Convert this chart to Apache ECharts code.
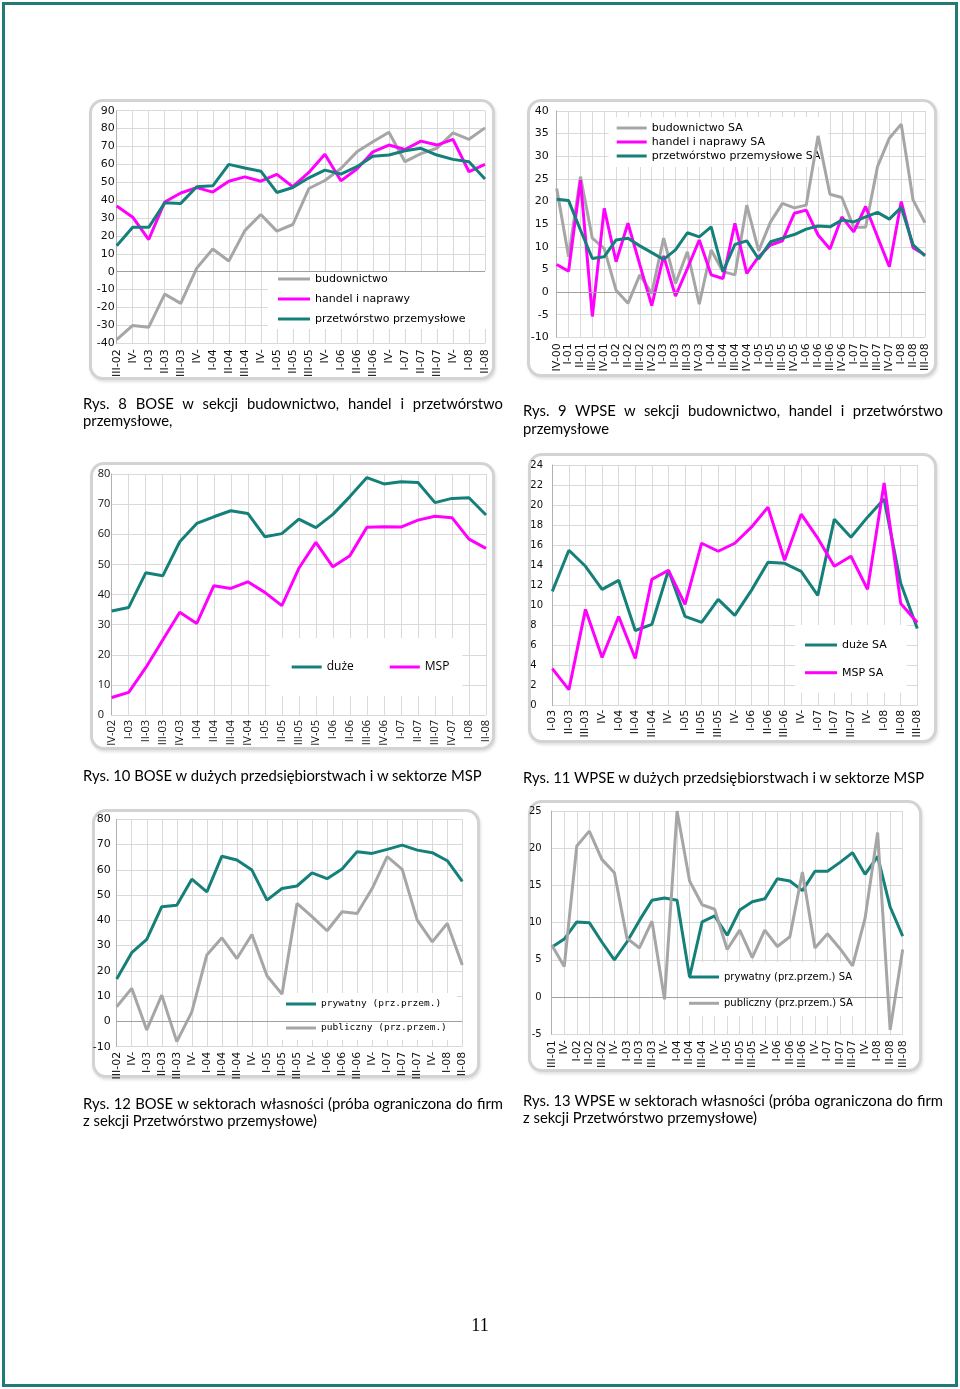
<!DOCTYPE html>
<html><head><meta charset="utf-8">
<script src="https://cdn.jsdelivr.net/npm/echarts@6/dist/echarts.min.js"></script>
<style>
body{margin:0;background:#fff}
#page{position:relative;width:960px;height:1389px;overflow:hidden;background:#fff}
.border{position:absolute;left:2px;top:2px;width:956px;height:1385px;box-sizing:border-box;border:3px solid #1f7b76}
.frame{position:absolute;box-sizing:border-box;border:3px solid #d3d3d3;border-radius:14px;background:#fff;box-shadow:1px 2px 3px rgba(0,0,0,0.12)}
.cap{position:absolute;font-family:Lato,sans-serif;font-size:14.8px;line-height:17px;color:#000;white-space:nowrap}
.j{text-align:justify;text-align-last:justify;white-space:normal}
#c{position:absolute;left:0;top:0;width:960px;height:1389px}
.pn{position:absolute;left:440px;width:80px;top:1315px;text-align:center;font-family:'Liberation Serif',serif;font-size:18px;color:#000}
</style></head><body>
<div id="page">
<div class="border"></div>
<div class="frame" style="left:89px;top:99px;width:406px;height:281px"></div>
<div class="frame" style="left:527px;top:99px;width:410px;height:278px"></div>
<div class="frame" style="left:90px;top:462px;width:405px;height:288px"></div>
<div class="frame" style="left:528px;top:453px;width:409px;height:290px"></div>
<div class="frame" style="left:92px;top:809px;width:388px;height:269px"></div>
<div class="frame" style="left:528px;top:800px;width:394px;height:272px"></div>
<div id="c"></div>
<div class="cap j" style="left:83px;top:395px;width:420px">Rys. 8 BOSE w sekcji budownictwo, handel i przetwórstwo</div>
<div class="cap" style="left:83px;top:412px">przemysłowe,</div>
<div class="cap j" style="left:523px;top:402px;width:420px">Rys. 9 WPSE w sekcji budownictwo, handel i przetwórstwo</div>
<div class="cap" style="left:523px;top:420px">przemysłowe</div>
<div class="cap" style="left:83px;top:767px">Rys. 10 BOSE w dużych przedsiębiorstwach i w sektorze MSP</div>
<div class="cap" style="left:523px;top:769px">Rys. 11 WPSE w dużych przedsiębiorstwach i w sektorze MSP</div>
<div class="cap j" style="left:83px;top:1095px;width:420px">Rys. 12 BOSE w sektorach własności (próba ograniczona do firm</div>
<div class="cap" style="left:83px;top:1112px">z sekcji Przetwórstwo przemysłowe)</div>
<div class="cap j" style="left:523px;top:1092px;width:420px">Rys. 13 WPSE w sektorach własności (próba ograniczona do firm</div>
<div class="cap" style="left:523px;top:1109px">z sekcji Przetwórstwo przemysłowe)</div>
<div class="pn">11</div>
</div>
<script>
// ---- Data ----
const cat1 = ["III-02","IV-","I-03","II-03","III-03","IV-","I-04","II-04","III-04","IV-","I-05","II-05","III-05","IV-","I-06","II-06","III-06","IV-","I-07","II-07","III-07","IV-","I-08","II-08"];
const bud1 = [-38,-30,-31,-12.5,-17.7,2,12.7,6,23,32,22.7,26.4,46.5,51,57.7,67,72.6,78,61.5,66,69,77.6,74,80.4];
const han1 = [36.7,30.5,18,39,44,47,44.5,50.6,53,50.6,54.4,47.5,55.5,65.7,50.8,57.4,67,70.8,68.3,73,70.8,74,55.9,60];
const prz1 = [14.5,24.8,24.8,38.5,38.2,47.5,48,60,58,56.2,44.3,47.1,52.5,56.8,54.6,58.7,64.6,65.2,67.6,69,65.2,62.8,61.5,51.8];

const cat2 = ["IV-00","I-01","II-01","III-01","IV-01","I-02","II-02","III-02","IV-02","I-03","II-03","III-03","IV-03","I-04","II-04","III-04","IV-04","I-05","II-05","III-05","IV-05","I-06","II-06","III-06","IV-06","I-07","II-07","III-07","IV-07","I-08","II-08","III-08"];
const bud2 = [22.9,7.8,25.5,11.9,9.6,0.4,-2.5,3.8,-0.3,11.9,1.9,8.9,-2.7,9.3,4.5,3.8,19.2,9.1,15.5,19.6,18.6,19.2,34.5,21.6,20.9,14.3,14.3,27.7,34,37.1,20.3,15.3];
const han2 = [6.1,4.6,24.7,-5.4,18.5,6.7,15.2,6,-3,8,-0.9,5.2,11.5,3.8,3,15.2,4.1,7.8,10.4,11.3,17.4,18.1,12.6,9.5,16.6,13.3,18.9,12.2,5.6,20,9.8,8.2];
const prz2 = [20.5,20.2,13.7,7.4,7.8,11.5,11.9,10.2,8.7,7.2,9.3,13.1,12.2,14.4,4.5,10.5,11.3,7.3,11.1,11.9,12.7,13.9,14.6,14.4,15.9,15.5,16.6,17.6,16.1,18.7,10.4,8];

const cat3 = ["IV-02","I-03","II-03","III-03","IV-03","I-04","II-04","III-04","IV-04","I-05","II-05","III-05","IV-05","I-06","II-06","III-06","IV-06","I-07","II-07","III-07","IV-07","I-08","II-08"];
const duze3 = [34.5,35.7,47.2,46.2,57.5,63.6,65.8,67.8,66.9,59.2,60.2,65,62.2,66.6,72.5,78.8,76.7,77.4,77.2,70.5,71.9,72.1,66.4];
const msp3 = [5.8,7.5,15.7,24.9,34.1,30.4,42.9,42,44.2,40.7,36.3,48.7,57.3,49.2,52.9,62.3,62.5,62.4,64.7,66,65.5,58.4,55.3];

const cat4 = ["I-03","II-03","III-03","IV-","I-04","II-04","III-04","IV-","I-05","II-05","III-05","IV-","I-06","II-06","III-06","IV-","I-07","II-07","III-07","IV-","I-08","II-08","III-08"];
const duze4 = [11.4,15.5,13.9,11.6,12.5,7.5,8.1,13.5,8.9,8.3,10.6,9,11.5,14.3,14.2,13.4,11,18.6,16.8,18.8,20.6,12.2,7.7];
const msp4 = [3.7,1.6,9.6,4.8,8.9,4.7,12.6,13.5,10.1,16.2,15.4,16.2,17.8,19.8,14.5,19.1,16.7,13.9,14.9,11.6,22.2,10.2,8.3];

const cat5 = ["III-02","IV-","I-03","II-03","III-03","IV-","I-04","II-04","III-04","IV-","I-05","II-05","III-05","IV-","I-06","II-06","III-06","IV-","I-07","II-07","III-07","IV-","I-08","II-08"];
const pryw5 = [16.8,27.2,32.5,45.4,46,56.3,51.3,65.4,63.9,59.9,48,52.6,53.6,58.8,56.5,60.3,67.2,66.5,68.1,69.8,67.8,66.8,63.6,55.4];
const publ5 = [5.8,13.1,-3.4,10.4,-8,3.8,26.3,33.1,24.9,34.4,18.1,10.8,46.7,41.5,35.9,43.4,42.7,52.6,65.2,60.2,40.1,31.5,38.8,22.3];

const cat6 = ["III-01","IV-","I-02","II-02","III-02","IV-","I-03","II-03","III-03","IV-","I-04","II-04","III-04","IV-","I-05","II-05","III-05","IV-","I-06","II-06","III-06","IV-","I-07","II-07","III-07","IV-","I-08","II-08","III-08"];
const pryw6 = [6.7,7.8,10.1,10,7.4,5,7.4,10.3,13,13.3,13,2.7,10.1,10.9,8.3,11.7,12.8,13.2,15.9,15.6,14.3,16.9,16.9,18.1,19.4,16.5,18.9,12.1,8.2];
const publ6 = [7,4.1,20.3,22.3,18.5,16.7,7.9,6.6,10.2,-0.3,25,15.6,12.4,11.8,6.4,9,5.3,9,6.8,8.1,16.8,6.6,8.5,6.5,4.2,10.6,22.1,-4.4,6.4];

// ---- Styling ----
const GRAY = '#a6a6a6', MAG = '#ff00ff', TEAL = '#15807a', GRID = '#d9d9d9';
const DV = 'DejaVu Sans';

const grids = [
  {left:116.7, top:110.7, width:368.3, height:232.6},
  {left:556.7, top:111, width:368.3, height:226.3},
  {left:111.7, top:474, width:374.3, height:241},
  {left:552.3, top:465, width:365, height:240.7},
  {left:116.7, top:819.3, width:345.6, height:227.4},
  {left:551.7, top:811, width:351, height:223.3}
];
const axCfg = [
  {cats:cat1, min:-40, max:90, interval:10, xf:DV, xs:11, xm:6, yf:DV, ys:11, ym:2, ya:'right'},
  {cats:cat2, min:-10, max:40, interval:5, xf:DV, xs:11, xm:6, yf:DV, ys:11, ym:8, ya:'right'},
  {cats:cat3, min:0, max:80, interval:10, xf:'Open Sans', xs:11, xm:5, yf:'Open Sans', ys:11, ym:14, ya:'left'},
  {cats:cat4, min:0, max:24, interval:2, xf:DV, xs:11, xm:4, yf:DV, ys:10, ym:22, ya:'left'},
  {cats:cat5, min:-10, max:80, interval:10, xf:DV, xs:11, xm:5, yf:DV, ys:11, ym:6, ya:'right'},
  {cats:cat6, min:-5, max:25, interval:5, xf:DV, xs:11, xm:6, yf:DV, ys:10, ym:10, ya:'right'}
];

const xAxis = axCfg.map((a,i)=>({
  type:'category', gridIndex:i, data:a.cats, boundaryGap:false,
  axisLine:{show:false}, axisTick:{show:false},
  splitLine:{show:true, lineStyle:{color:GRID, width:1}},
  axisLabel:{rotate:90, interval:0, margin:a.xm, fontFamily:a.xf, fontSize:a.xs, color:'#111'}
}));
const yAxis = axCfg.map((a,i)=>({
  type:'value', gridIndex:i, min:a.min, max:a.max, interval:a.interval,
  axisLine:{show:true, lineStyle:{color:'#b0b0b0', width:1}}, axisTick:{show:false},
  splitLine:{show:true, lineStyle:{color:GRID, width:1}},
  axisLabel:{margin:a.ym, align:a.ya, fontFamily:a.yf, fontSize:a.ys, color:'#111'}
}));

function ser(i, name, data, color, zero){
  const s = {type:'line', name, data, xAxisIndex:i, yAxisIndex:i, symbol:'none', smooth:false,
    lineStyle:{width:3, color}, itemStyle:{color}, animation:false, z:3};
  if(zero){
    s.markLine = {silent:true, symbol:'none', animation:false, label:{show:false},
      lineStyle:{color:'#a0a0a0', width:1, type:'solid'}, data:[{yAxis:0}]};
  }
  return s;
}
const series = [
  ser(0,'budownictwo',bud1,GRAY,true), ser(0,'handel i naprawy',han1,MAG), ser(0,'przetwórstwo przemysłowe',prz1,TEAL),
  ser(1,'budownictwo SA',bud2,GRAY,true), ser(1,'handel i naprawy SA',han2,MAG), ser(1,'przetwórstwo przemysłowe SA',prz2,TEAL),
  ser(2,'duże',duze3,TEAL), ser(2,'MSP',msp3,MAG),
  ser(3,'duże SA',duze4,TEAL), ser(3,'MSP SA',msp4,MAG),
  ser(4,'prywatny (prz.przem.)',pryw5,TEAL,true), ser(4,'publiczny (prz.przem.)',publ5,GRAY),
  ser(5,'prywatny (prz.przem.) SA',pryw6,TEAL,true), ser(5,'publiczny (prz.przem.) SA',publ6,GRAY)
];

function leg(names, o){
  return Object.assign({
    data:names, icon:'rect', itemHeight:3, backgroundColor:'#fff', borderWidth:0,
    selectedMode:false, z:1,
    textStyle:{fontFamily:DV, fontSize:11, color:'#000', lineHeight:14}
  }, o);
}
const legend = [
  leg(['budownictwo','handel i naprawy','przetwórstwo przemysłowe'],
      {orient:'vertical', left:268, top:271, itemWidth:32, itemGap:6, padding:[1,25,3,10]}),
  leg(['budownictwo SA','handel i naprawy SA','przetwórstwo przemysłowe SA'],
      {orient:'vertical', left:608.7, top:117, itemWidth:30, itemGap:0, padding:[4,8,4,8]}),
  leg(['duże','MSP'],
      {orient:'horizontal', left:269.7, top:638, itemWidth:30, itemGap:36, padding:[22,13,22,22],
       textStyle:{fontFamily:'Open Sans', fontSize:12, color:'#000', lineHeight:14}}),
  leg(['duże SA','MSP SA'],
      {orient:'vertical', left:795, top:625, itemWidth:32, itemGap:13.7, padding:[13,20,13,10]}),
  leg(['prywatny (prz.przem.)','publiczny (prz.przem.)'],
      {orient:'vertical', left:280, top:993, itemWidth:30, itemGap:10, padding:[4,10,5,6],
       textStyle:{fontFamily:'DejaVu Sans Mono', fontSize:9.5, color:'#000', lineHeight:14}}),
  leg(['prywatny (prz.przem.) SA','publiczny (prz.przem.) SA'],
      {orient:'vertical', left:680, top:962, itemWidth:30, itemGap:12.3, padding:[8,8,6,9],
       textStyle:{fontFamily:DV, fontSize:10, color:'#000', lineHeight:14}})
];

const chart = echarts.init(document.getElementById('c'), null, {renderer:'canvas'});
chart.setOption({
  backgroundColor:'transparent',
  animation:false,
  grid:grids,
  xAxis, yAxis, legend, series
});
</script>
</body></html>
